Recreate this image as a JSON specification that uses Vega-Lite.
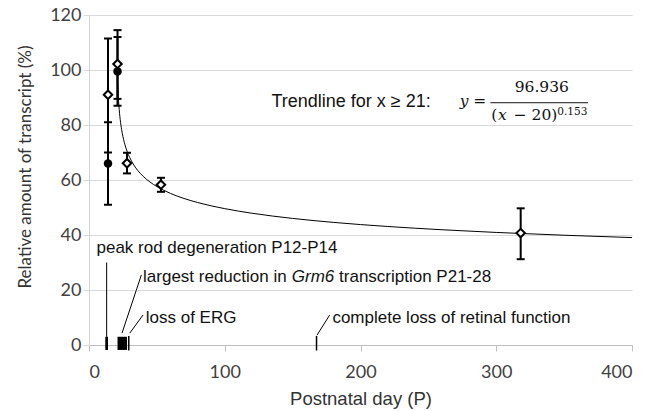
{
  "$schema": "https://vega.github.io/schema/vega-lite/v6.json",
  "width": 543,
  "height": 330,
  "autosize": "none",
  "padding": {"left": 89, "top": 15, "right": 19, "bottom": 66},
  "background": "white",
  "config": {"view": {"stroke": null}, "font": "Liberation Sans"},
  "datasets": {
    "trend": [
      {"x": 21, "y": 96.94}, {"x": 21.3, "y": 93.12}, {"x": 21.6, "y": 90.21}, {"x": 22, "y": 87.18},
      {"x": 22.5, "y": 84.26}, {"x": 23, "y": 81.94}, {"x": 24, "y": 78.41}, {"x": 25, "y": 75.78},
      {"x": 26, "y": 73.69}, {"x": 28, "y": 70.52}, {"x": 30, "y": 68.15}, {"x": 33, "y": 65.47},
      {"x": 36, "y": 63.42}, {"x": 40, "y": 61.30}, {"x": 45, "y": 59.24}, {"x": 50, "y": 57.61},
      {"x": 60, "y": 55.13}, {"x": 70, "y": 53.28}, {"x": 80, "y": 51.81}, {"x": 100, "y": 49.58},
      {"x": 120, "y": 47.92}, {"x": 150, "y": 46.03}, {"x": 180, "y": 44.59}, {"x": 220, "y": 43.10},
      {"x": 260, "y": 41.91}, {"x": 300, "y": 40.93}, {"x": 350, "y": 39.92}, {"x": 400, "y": 39.06}
    ],
    "points": [
      {"series": "filled", "x": 14, "y": 66, "lo": 51, "hi": 81},
      {"series": "filled", "x": 21, "y": 99.5, "lo": 87, "hi": 112},
      {"series": "open", "x": 14, "y": 91, "lo": 70, "hi": 111.5},
      {"series": "open", "x": 21, "y": 102.2, "lo": 89.5, "hi": 114.5},
      {"series": "open", "x": 28, "y": 66.1, "lo": 62.4, "hi": 69.9},
      {"series": "open", "x": 53, "y": 58.3, "lo": 55.7, "hi": 60.8},
      {"series": "open", "x": 318, "y": 40.7, "lo": 31.2, "hi": 49.7}
    ],
    "periods": [
      {"x": 12, "x2": 14, "y": -1.8, "y2": 3},
      {"x": 21, "x2": 28, "y": -1.8, "y2": 3}
    ],
    "events": [
      {"x": 29.3, "y": -2, "y2": 3.3},
      {"x": 167.6, "y": -2, "y2": 3.3}
    ],
    "leaders": [
      {"x": 13, "y": 3, "x2": 13, "y2": 30},
      {"x": 24.3, "y": 4.3, "x2": 38.6, "y2": 25.5},
      {"x": 30, "y": 4.3, "x2": 39.8, "y2": 10.9},
      {"x": 168, "y": 3.6, "x2": 177.3, "y2": 10.9}
    ],
    "notes": [
      {"x": 5.5, "y": 35.3, "text": "peak rod degeneration P12-P14"},
      {"x": 39.8, "y": 24.8, "text": "largest reduction in"},
      {"x": 184.2, "y": 24.8, "text": "transcription P21-28"},
      {"x": 41.8, "y": 9.7, "text": "loss of ERG"},
      {"x": 179.3, "y": 9.8, "text": "complete loss of retinal function"}
    ],
    "notesItalic": [
      {"x": 149.4, "y": 24.8, "text": "Grm6"}
    ],
    "trendLabel": [
      {"x": 134.4, "y": 88.5, "text": "Trendline for x ≥ 21:"}
    ],
    "mathItalic": [
      {"x": 273.1, "y": 88.7, "text": "y"},
      {"x": 301.2, "y": 83.6, "text": "x"}
    ],
    "mathPlain": [
      {"x": 283.0, "y": 88.7, "text": "="},
      {"x": 313.6, "y": 93.8, "text": "96.936"},
      {"x": 296.4, "y": 83.6, "text": "("},
      {"x": 312.8, "y": 83.6, "text": "− 20)"}
    ],
    "mathSup": [
      {"x": 345.0, "y": 84.6, "text": "0.153"}
    ],
    "fractionBar": [
      {"x": 295.7, "x2": 367.6, "y": 88.1}
    ]
  },
  "layer": [
    {
      "data": {"name": "trend"},
      "mark": {"type": "line", "color": "#000000", "strokeWidth": 1, "interpolate": "monotone"},
      "encoding": {
        "x": {
          "field": "x", "type": "quantitative",
          "title": "Postnatal day (P)",
          "scale": {"domain": [0, 400], "nice": false, "zero": false},
          "axis": {
            "values": [0, 100, 200, 300, 400],
            "grid": false,
            "domainColor": "#bfbfbf",
            "tickColor": "#bfbfbf",
            "tickSize": 6,
            "labelFont": "Lato",
            "labelFontSize": 18,
            "labelColor": "#404040",
            "labelPadding": 12,
            "titleFont": "Liberation Sans",
            "titleFontSize": 18.5,
            "titleFontWeight": "normal",
            "titleColor": "#333333",
            "titleY": 59,
            "titleBaseline": "alphabetic"
          }
        },
        "y": {
          "field": "y", "type": "quantitative",
          "title": "Relative amount of transcript (%)",
          "scale": {"domain": [0, 120], "nice": false},
          "axis": {
            "values": [0, 20, 40, 60, 80, 100, 120],
            "grid": true,
            "gridColor": "#d9d9d9",
            "domainColor": "#d0d0d0",
            "tickColor": "#d9d9d9",
            "tickSize": 6,
            "labelFont": "Lato",
            "labelFontSize": 18,
            "labelColor": "#404040",
            "labelPadding": 2,
            "titleFont": "Lato",
            "titleFontSize": 17,
            "titleFontWeight": "normal",
            "titleColor": "#333333",
            "titleX": -64,
            "titleY": 151.5,
            "titleBaseline": "middle"
          }
        }
      }
    },
    {
      "data": {"name": "points"},
      "mark": {"type": "rule", "color": "#000000", "strokeWidth": 2},
      "encoding": {
        "x": {"field": "x", "type": "quantitative", "title": "Postnatal day (P)"},
        "y": {"field": "lo", "type": "quantitative", "title": "Relative amount of transcript (%)"},
        "y2": {"field": "hi"}
      }
    },
    {
      "data": {"name": "points"},
      "mark": {"type": "tick", "orient": "horizontal", "color": "#000000", "size": 8, "thickness": 2, "opacity": 1},
      "encoding": {
        "x": {"field": "x", "type": "quantitative", "title": "Postnatal day (P)"},
        "y": {"field": "lo", "type": "quantitative", "title": "Relative amount of transcript (%)"}
      }
    },
    {
      "data": {"name": "points"},
      "mark": {"type": "tick", "orient": "horizontal", "color": "#000000", "size": 8, "thickness": 2, "opacity": 1},
      "encoding": {
        "x": {"field": "x", "type": "quantitative", "title": "Postnatal day (P)"},
        "y": {"field": "hi", "type": "quantitative", "title": "Relative amount of transcript (%)"}
      }
    },
    {
      "data": {"name": "points"},
      "transform": [{"filter": "datum.series === 'filled'"}],
      "mark": {"type": "point", "shape": "circle", "filled": true, "color": "#000000", "size": 72, "opacity": 1},
      "encoding": {
        "x": {"field": "x", "type": "quantitative", "title": "Postnatal day (P)"},
        "y": {"field": "y", "type": "quantitative", "title": "Relative amount of transcript (%)"}
      }
    },
    {
      "data": {"name": "points"},
      "transform": [{"filter": "datum.series === 'open'"}],
      "mark": {"type": "point", "shape": "diamond", "filled": true, "fill": "#ffffff", "stroke": "#000000", "strokeWidth": 2, "size": 72, "opacity": 1},
      "encoding": {
        "x": {"field": "x", "type": "quantitative", "title": "Postnatal day (P)"},
        "y": {"field": "y", "type": "quantitative", "title": "Relative amount of transcript (%)"}
      }
    },
    {
      "data": {"name": "periods"},
      "mark": {"type": "rect", "color": "#000000"},
      "encoding": {
        "x": {"field": "x", "type": "quantitative", "title": "Postnatal day (P)"},
        "x2": {"field": "x2"},
        "y": {"field": "y", "type": "quantitative", "title": "Relative amount of transcript (%)"},
        "y2": {"field": "y2"}
      }
    },
    {
      "data": {"name": "events"},
      "mark": {"type": "rule", "color": "#000000", "strokeWidth": 1.5},
      "encoding": {
        "x": {"field": "x", "type": "quantitative", "title": "Postnatal day (P)"},
        "y": {"field": "y", "type": "quantitative", "title": "Relative amount of transcript (%)"},
        "y2": {"field": "y2"}
      }
    },
    {
      "data": {"name": "leaders"},
      "mark": {"type": "rule", "color": "#000000", "strokeWidth": 1},
      "encoding": {
        "x": {"field": "x", "type": "quantitative", "title": "Postnatal day (P)"},
        "x2": {"field": "x2"},
        "y": {"field": "y", "type": "quantitative", "title": "Relative amount of transcript (%)"},
        "y2": {"field": "y2"}
      }
    },
    {
      "data": {"name": "notes"},
      "mark": {"type": "text", "font": "Liberation Sans", "fontSize": 17, "align": "left", "baseline": "middle", "color": "#111111"},
      "encoding": {
        "x": {"field": "x", "type": "quantitative", "title": "Postnatal day (P)"},
        "y": {"field": "y", "type": "quantitative", "title": "Relative amount of transcript (%)"},
        "text": {"field": "text"}
      }
    },
    {
      "data": {"name": "notesItalic"},
      "mark": {"type": "text", "font": "Liberation Sans", "fontSize": 17, "fontStyle": "italic", "align": "left", "baseline": "middle", "color": "#111111"},
      "encoding": {
        "x": {"field": "x", "type": "quantitative", "title": "Postnatal day (P)"},
        "y": {"field": "y", "type": "quantitative", "title": "Relative amount of transcript (%)"},
        "text": {"field": "text"}
      }
    },
    {
      "data": {"name": "trendLabel"},
      "mark": {"type": "text", "font": "Liberation Sans", "fontSize": 18, "align": "left", "baseline": "middle", "color": "#111111"},
      "encoding": {
        "x": {"field": "x", "type": "quantitative", "title": "Postnatal day (P)"},
        "y": {"field": "y", "type": "quantitative", "title": "Relative amount of transcript (%)"},
        "text": {"field": "text"}
      }
    },
    {
      "data": {"name": "mathItalic"},
      "mark": {"type": "text", "font": "DejaVu Serif", "fontSize": 15.5, "fontStyle": "italic", "align": "left", "baseline": "middle", "color": "#111111"},
      "encoding": {
        "x": {"field": "x", "type": "quantitative", "title": "Postnatal day (P)"},
        "y": {"field": "y", "type": "quantitative", "title": "Relative amount of transcript (%)"},
        "text": {"field": "text"}
      }
    },
    {
      "data": {"name": "mathPlain"},
      "mark": {"type": "text", "font": "DejaVu Serif", "fontSize": 15.5, "align": "left", "baseline": "middle", "color": "#111111"},
      "encoding": {
        "x": {"field": "x", "type": "quantitative", "title": "Postnatal day (P)"},
        "y": {"field": "y", "type": "quantitative", "title": "Relative amount of transcript (%)"},
        "text": {"field": "text"}
      }
    },
    {
      "data": {"name": "mathSup"},
      "mark": {"type": "text", "font": "DejaVu Serif", "fontSize": 10.5, "align": "left", "baseline": "middle", "color": "#111111"},
      "encoding": {
        "x": {"field": "x", "type": "quantitative", "title": "Postnatal day (P)"},
        "y": {"field": "y", "type": "quantitative", "title": "Relative amount of transcript (%)"},
        "text": {"field": "text"}
      }
    },
    {
      "data": {"name": "fractionBar"},
      "mark": {"type": "rule", "color": "#111111", "strokeWidth": 1},
      "encoding": {
        "x": {"field": "x", "type": "quantitative", "title": "Postnatal day (P)"},
        "x2": {"field": "x2"},
        "y": {"field": "y", "type": "quantitative", "title": "Relative amount of transcript (%)"}
      }
    }
  ]
}
